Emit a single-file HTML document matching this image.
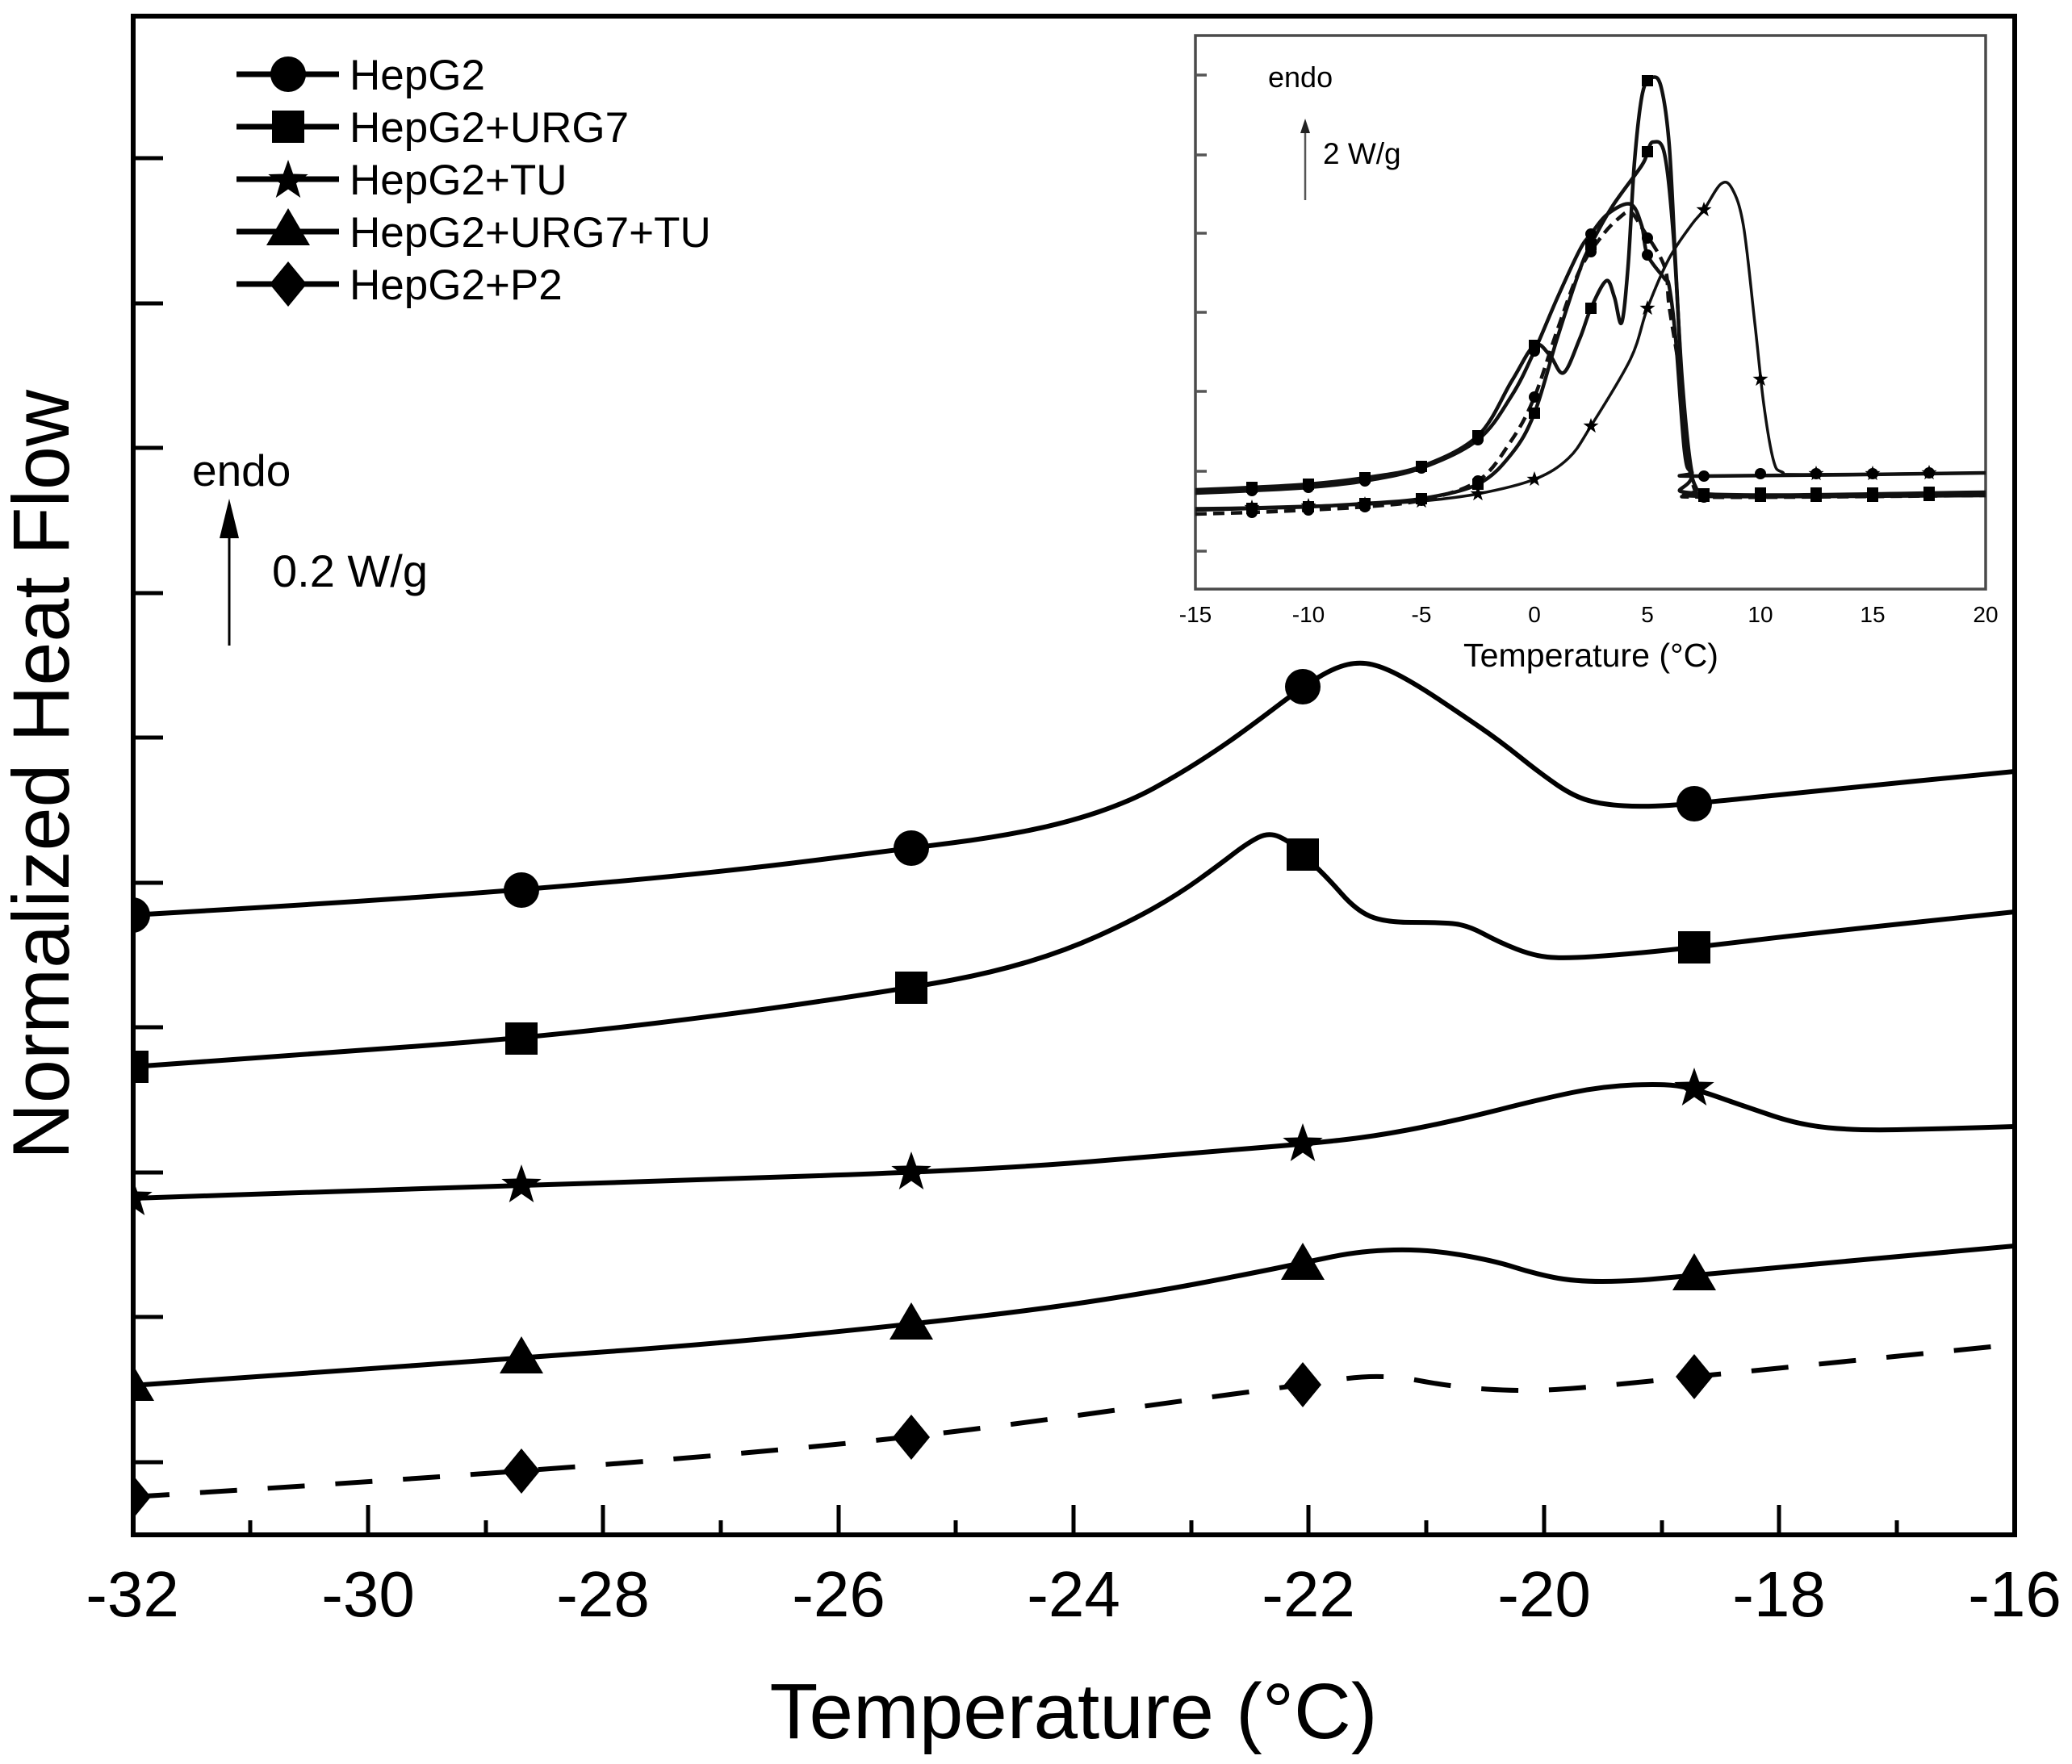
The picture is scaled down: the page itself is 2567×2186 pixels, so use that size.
<!DOCTYPE html>
<html><head><meta charset="utf-8"><style>
html,body{margin:0;padding:0;background:#fff;}
svg{display:block;}
text{font-family:"Liberation Sans",Arial,sans-serif;fill:#000;}
</style></head><body>
<svg width="2567" height="2186" viewBox="0 0 2567 2186">
<defs>
<clipPath id="pc"><rect x="165" y="20" width="2331" height="1882"/></clipPath>
<clipPath id="ic"><rect x="1481" y="44" width="979" height="686"/></clipPath>
<circle id="mC" r="22"/>
<rect id="mS" x="-20" y="-20" width="40" height="40"/>
<path id="mT" d="M0,-27 L27,19 L-27,19Z"/>
<path id="mD" d="M0,-28 L23,0 L0,28 L-23,0Z"/>
<path id="mSt" d="M0,-26 L6.17,-8.49 L24.73,-8.03 L9.99,3.24 L15.28,21.03 L0,10.5 L-15.28,21.03 L-9.99,3.24 L-24.73,-8.03 L-6.17,-8.49Z"/>
<circle id="iC" r="7"/>
<rect id="iS" x="-7" y="-7" width="14" height="14"/>
<path id="iSt" d="M0,-10 L2.4,-3.3 L9.5,-3.1 L3.8,1.2 L5.9,8.1 L0,4 L-5.9,8.1 L-3.8,1.2 L-9.5,-3.1 L-2.4,-3.3Z"/>
</defs>
<rect x="0" y="0" width="2567" height="2186" fill="#fff"/>

<!-- main axes frame -->
<rect x="165" y="20" width="2331" height="1882" fill="none" stroke="#000" stroke-width="6"/>
<g stroke="#000" stroke-width="5">
<line x1="165" y1="196" x2="202" y2="196"/><line x1="165" y1="376" x2="202" y2="376"/>
<line x1="165" y1="555" x2="202" y2="555"/><line x1="165" y1="735" x2="202" y2="735"/>
<line x1="165" y1="914" x2="202" y2="914"/><line x1="165" y1="1094" x2="202" y2="1094"/>
<line x1="165" y1="1273" x2="202" y2="1273"/><line x1="165" y1="1453" x2="202" y2="1453"/>
<line x1="165" y1="1632" x2="202" y2="1632"/><line x1="165" y1="1812" x2="202" y2="1812"/>
<line x1="456" y1="1902" x2="456" y2="1865"/><line x1="747" y1="1902" x2="747" y2="1865"/>
<line x1="1039" y1="1902" x2="1039" y2="1865"/><line x1="1330" y1="1902" x2="1330" y2="1865"/>
<line x1="1621" y1="1902" x2="1621" y2="1865"/><line x1="1913" y1="1902" x2="1913" y2="1865"/>
<line x1="2204" y1="1902" x2="2204" y2="1865"/>
<line x1="310" y1="1902" x2="310" y2="1884"/><line x1="602" y1="1902" x2="602" y2="1884"/>
<line x1="893" y1="1902" x2="893" y2="1884"/><line x1="1184" y1="1902" x2="1184" y2="1884"/>
<line x1="1476" y1="1902" x2="1476" y2="1884"/><line x1="1767" y1="1902" x2="1767" y2="1884"/>
<line x1="2059" y1="1902" x2="2059" y2="1884"/><line x1="2350" y1="1902" x2="2350" y2="1884"/>
</g>
<g font-size="80" text-anchor="middle">
<text x="164" y="2003">-32</text><text x="456" y="2003">-30</text><text x="747" y="2003">-28</text>
<text x="1039" y="2003">-26</text><text x="1330" y="2003">-24</text><text x="1621" y="2003">-22</text>
<text x="1913" y="2003">-20</text><text x="2204" y="2003">-18</text><text x="2496" y="2003">-16</text>
</g>
<text x="1330" y="2154" font-size="97" text-anchor="middle" textLength="753" lengthAdjust="spacingAndGlyphs">Temperature (°C)</text>
<text transform="translate(85,960) rotate(-90)" font-size="99" text-anchor="middle" textLength="954" lengthAdjust="spacingAndGlyphs">Normalized Heat Flow</text>

<!-- main curves (static smooth paths) -->
<g clip-path="url(#pc)" fill="none" stroke="#000" stroke-width="6" stroke-linejoin="round">
<path d="M164,1134 L282,1127 Q400,1120 523,1111.5 Q646,1103 773,1091.5 Q900,1080 1014.5,1065.5 Q1129,1051 1179.5,1044.5 Q1230,1038 1275,1029 Q1320,1020 1360,1006.5 Q1400,993 1430,976.5 Q1460,960 1485,944 Q1510,928 1531,913 Q1552,898 1583,874.5 Q1614,851 1634,839 Q1654,827 1669.5,823.5 Q1685,820 1700,823.5 Q1715,827 1735.5,838 Q1756,849 1781.5,866 Q1807,883 1832.5,900.5 Q1858,918 1883.5,938.5 Q1909,959 1929.5,973 Q1950,987 1968,992 Q1986,997 2011.5,998.5 Q2037,1000 2068,998 Q2099,996 2174.5,988 Q2250,980 2373,968 L2496,956"/>
<path d="M164,1322 L282,1313.5 Q400,1305 523,1296 Q646,1287 773,1272.5 Q900,1258 1014.5,1241 Q1129,1224 1179.5,1214.5 Q1230,1205 1275,1191.5 Q1320,1178 1360,1160 Q1400,1142 1430,1125 Q1460,1108 1485,1090 Q1510,1072 1527.5,1058.5 Q1545,1045 1558.5,1038 Q1572,1031 1585,1037 Q1598,1043 1606,1051 Q1614,1059 1629,1073 Q1644,1087 1662,1107.5 Q1680,1128 1697.5,1135.5 Q1715,1143 1748.5,1143 Q1782,1143 1799.5,1144.5 Q1817,1146 1837.5,1157 Q1858,1168 1878.5,1176 Q1899,1184 1917,1186 Q1935,1188 1973,1185.5 Q2011,1183 2055,1178.5 Q2099,1174 2174.5,1165 Q2250,1156 2373,1143 L2496,1130"/>
<path d="M164,1485 L282,1481 Q400,1477 523,1473 Q646,1469 773,1465 Q900,1461 1014.5,1457 Q1129,1453 1214.5,1448.5 Q1300,1444 1375,1437.5 Q1450,1431 1532,1424.5 Q1614,1418 1659.5,1413 Q1705,1408 1756,1398 Q1807,1388 1858,1375 Q1909,1362 1947.5,1354 Q1986,1346 2024,1344.5 Q2062,1343 2080.5,1346 Q2099,1349 2131.5,1360.5 Q2164,1372 2197,1383 Q2230,1394 2265,1397.5 Q2300,1401 2350,1400 Q2400,1399 2448,1397.5 L2496,1396"/>
<path d="M164,1717 L282,1708.5 Q400,1700 523,1691.5 Q646,1683 773,1673.5 Q900,1664 1014.5,1652.5 Q1129,1641 1214.5,1631 Q1300,1621 1370,1610 Q1440,1599 1490,1589.5 Q1540,1580 1577,1572.5 Q1614,1565 1650,1557.5 Q1686,1550 1727,1549 Q1768,1548 1809,1555 Q1850,1562 1875,1570 Q1900,1578 1925,1583 Q1950,1588 1985,1588 Q2020,1588 2059.5,1584 Q2099,1580 2297.5,1562 L2496,1544"/>
<path stroke-dasharray="46 38" d="M164,1855 L282,1847.5 Q400,1840 523,1831.5 Q646,1823 773,1813 Q900,1803 1014.5,1792 Q1129,1781 1214.5,1770 Q1300,1759 1375,1748.5 Q1450,1738 1532,1727 Q1614,1716 1662.5,1709 Q1711,1702 1756,1710.5 Q1801,1719 1842,1721.5 Q1883,1724 1916.5,1722.5 Q1950,1721 2024.5,1713.5 Q2099,1706 2297.5,1686 L2496,1666"/>
</g>
<g clip-path="url(#pc)" fill="#000">
<use href="#mC" x="164" y="1134"/><use href="#mC" x="646" y="1103"/><use href="#mC" x="1129" y="1051"/><use href="#mC" x="1614" y="851"/><use href="#mC" x="2099" y="996"/>
<use href="#mS" x="164" y="1322"/><use href="#mS" x="646" y="1287"/><use href="#mS" x="1129" y="1224"/><use href="#mS" x="1614" y="1059"/><use href="#mS" x="2099" y="1174"/>
<use href="#mSt" x="164" y="1485"/><use href="#mSt" x="646" y="1469"/><use href="#mSt" x="1129" y="1453"/><use href="#mSt" x="1614" y="1418"/><use href="#mSt" x="2099" y="1349"/>
<use href="#mT" x="164" y="1717"/><use href="#mT" x="646" y="1683"/><use href="#mT" x="1129" y="1641"/><use href="#mT" x="1614" y="1567"/><use href="#mT" x="2099" y="1580"/>
<use href="#mD" x="164" y="1855"/><use href="#mD" x="646" y="1823"/><use href="#mD" x="1129" y="1781"/><use href="#mD" x="1614" y="1716"/><use href="#mD" x="2099" y="1706"/>
</g>

<!-- legend -->
<g stroke="#000" stroke-width="7">
<line x1="293" y1="92" x2="420" y2="92"/><line x1="293" y1="157" x2="420" y2="157"/>
<line x1="293" y1="222" x2="420" y2="222"/><line x1="293" y1="287" x2="420" y2="287"/>
<line x1="293" y1="352" x2="420" y2="352"/>
</g>
<g fill="#000">
<use href="#mC" x="357" y="92"/><use href="#mS" x="357" y="157"/><use href="#mSt" x="357" y="224"/>
<use href="#mT" x="357" y="285"/><use href="#mD" x="357" y="352"/>
</g>
<g font-size="53">
<text x="433" y="111">HepG2</text>
<text x="433" y="176">HepG2+URG7</text>
<text x="433" y="241">HepG2+TU</text>
<text x="433" y="306">HepG2+URG7+TU</text>
<text x="433" y="371">HepG2+P2</text>
</g>

<text x="238" y="602" font-size="55">endo</text>
<line x1="284" y1="800" x2="284" y2="660" stroke="#000" stroke-width="3"/>
<polygon points="284,618 272,667 296,667" fill="#000"/>
<text x="337" y="727" font-size="56">0.2 W/g</text>

<!-- inset -->
<rect x="1481" y="44" width="979" height="686" fill="#fff" stroke="#4a4a4a" stroke-width="3.5"/>
<g stroke="#555" stroke-width="3.5">
<line x1="1481" y1="93" x2="1495" y2="93"/><line x1="1481" y1="192" x2="1495" y2="192"/>
<line x1="1481" y1="289" x2="1495" y2="289"/><line x1="1481" y1="387" x2="1495" y2="387"/>
<line x1="1481" y1="485" x2="1495" y2="485"/><line x1="1481" y1="584" x2="1495" y2="584"/>
<line x1="1481" y1="683" x2="1495" y2="683"/>
</g>
<g font-size="28" text-anchor="middle" fill="#222">
<text x="1481" y="771">-15</text><text x="1621" y="771">-10</text><text x="1761" y="771">-5</text>
<text x="1901" y="771">0</text><text x="2041" y="771">5</text><text x="2181" y="771">10</text>
<text x="2320" y="771">15</text><text x="2460" y="771">20</text>
</g>
<text x="1971" y="826" font-size="41" text-anchor="middle" textLength="316" lengthAdjust="spacingAndGlyphs" fill="#222">Temperature (°C)</text>
<text x="1571" y="108" font-size="36" fill="#222">endo</text>
<text x="1639" y="203" font-size="37" fill="#222">2 W/g</text>
<line x1="1617" y1="248" x2="1617" y2="160" stroke="#555" stroke-width="2.5"/>
<polygon points="1617,147 1611,165 1623,165" fill="#222"/>

<g clip-path="url(#ic)">
<polyline class="sm" fill="none" stroke="#111" stroke-width="4.5" stroke-linejoin="round" points="1481,607 1551,604 1621,600 1691,592 1761,578 1831,540 1873,472 1901,428 1920,440 1937,462 1957,420 1971,382 1990,348 2000,368 2009,400 2017,330 2025,200 2035,115 2047,96 2058,108 2068,180 2076,330 2084,480 2092,570 2102,606 2115,615 2460,614"/>
<polyline class="sm" fill="none" stroke="#111" stroke-width="4.5" stroke-linejoin="round" points="1481,611 1551,608 1621,604 1691,596 1761,580 1831,545 1873,490 1901,435 1929,370 1957,310 1971,290 1992,265 2020,253 2034,280 2041,316 2062,345 2068,355 2076,420 2087,560 2096,585 2111,590 2460,586"/>
<polyline class="sm" fill="none" stroke="#111" stroke-width="4.5" stroke-linejoin="round" points="1481,632 1551,630 1621,628 1691,624 1761,618 1831,600 1873,562 1901,512 1929,420 1957,335 1971,303 1998,255 2034,205 2041,188 2048,176 2062,190 2073,290 2084,470 2096,585 2111,612 2460,610"/>
<polyline class="sm" fill="none" stroke="#111" stroke-width="4.5" stroke-linejoin="round" stroke-dasharray="14 8" points="1481,637 1551,635 1621,632 1691,628 1761,620 1831,596 1873,545 1901,492 1929,410 1957,335 1985,292 2006,270 2020,263 2034,282 2062,330 2068,380 2082,470 2090,560 2100,608 2113,616 2460,614"/>
<polyline class="sm" fill="none" stroke="#111" stroke-width="3.5" stroke-linejoin="round" points="1481,630 1551,629 1621,627 1691,625 1761,621 1831,612 1901,594 1943,568 1971,528 2020,445 2041,382 2068,320 2096,278 2111,260 2132,228 2146,234 2160,280 2174,400 2185,500 2197,570 2208,585 2236,588 2460,586"/>
<g fill="#000">
<use href="#iS" x="1551" y="604"/><use href="#iS" x="1621" y="600"/><use href="#iS" x="1691" y="592"/><use href="#iS" x="1761" y="578"/><use href="#iS" x="1831" y="540"/><use href="#iS" x="1901" y="428"/><use href="#iS" x="1971" y="382"/><use href="#iS" x="2041" y="100"/><use href="#iS" x="2111" y="615"/><use href="#iS" x="2181" y="615"/><use href="#iS" x="2250" y="615"/><use href="#iS" x="2320" y="615"/><use href="#iS" x="2390" y="614"/>
<use href="#iC" x="1551" y="608"/><use href="#iC" x="1621" y="604"/><use href="#iC" x="1691" y="596"/><use href="#iC" x="1761" y="580"/><use href="#iC" x="1831" y="545"/><use href="#iC" x="1901" y="435"/><use href="#iC" x="1971" y="290"/><use href="#iC" x="2041" y="316"/><use href="#iC" x="2111" y="590"/><use href="#iC" x="2181" y="587"/><use href="#iC" x="2250" y="587"/><use href="#iC" x="2320" y="587"/><use href="#iC" x="2390" y="586"/>
<use href="#iS" x="1551" y="630"/><use href="#iS" x="1621" y="628"/><use href="#iS" x="1691" y="624"/><use href="#iS" x="1761" y="618"/><use href="#iS" x="1831" y="600"/><use href="#iS" x="1901" y="512"/><use href="#iS" x="1971" y="303"/><use href="#iS" x="2041" y="188"/><use href="#iS" x="2111" y="612"/><use href="#iS" x="2181" y="611"/><use href="#iS" x="2250" y="611"/><use href="#iS" x="2320" y="611"/><use href="#iS" x="2390" y="610"/>
<use href="#iC" x="1551" y="635"/><use href="#iC" x="1621" y="632"/><use href="#iC" x="1691" y="628"/><use href="#iC" x="1761" y="620"/><use href="#iC" x="1831" y="596"/><use href="#iC" x="1901" y="492"/><use href="#iC" x="1971" y="312"/><use href="#iC" x="2041" y="295"/><use href="#iC" x="2111" y="616"/><use href="#iC" x="2181" y="615"/><use href="#iC" x="2250" y="615"/><use href="#iC" x="2320" y="615"/><use href="#iC" x="2390" y="614"/>
<use href="#iSt" x="1551" y="629"/><use href="#iSt" x="1621" y="627"/><use href="#iSt" x="1691" y="625"/><use href="#iSt" x="1761" y="621"/><use href="#iSt" x="1831" y="612"/><use href="#iSt" x="1901" y="594"/><use href="#iSt" x="1971" y="528"/><use href="#iSt" x="2041" y="382"/><use href="#iSt" x="2111" y="260"/><use href="#iSt" x="2181" y="470"/><use href="#iSt" x="2250" y="587"/><use href="#iSt" x="2320" y="587"/><use href="#iSt" x="2390" y="586"/>
</g>
</g>
</svg>
<script>
(function(){
var pls=document.querySelectorAll('polyline.sm');
for(var k=0;k<pls.length;k++){
var pl=pls[k];
var pts=pl.getAttribute('points').trim().split(/\s+/).map(function(s){return s.split(',').map(Number);});
var d='M'+pts[0][0]+','+pts[0][1];
for(var i=0;i<pts.length-1;i++){
var p0=pts[i-1]||pts[i],p1=pts[i],p2=pts[i+1],p3=pts[i+2]||pts[i+1];
var c1x=p1[0]+(p2[0]-p0[0])/6,c1y=p1[1]+(p2[1]-p0[1])/6;
var c2x=p2[0]-(p3[0]-p1[0])/6,c2y=p2[1]-(p3[1]-p1[1])/6;
d+=' C'+c1x.toFixed(1)+','+c1y.toFixed(1)+' '+c2x.toFixed(1)+','+c2y.toFixed(1)+' '+p2[0]+','+p2[1];
}
var path=document.createElementNS(pl.namespaceURI,'path');
var at=['fill','stroke','stroke-width','stroke-dasharray'];
for(var j=0;j<at.length;j++){var v=pl.getAttribute(at[j]);if(v!==null)path.setAttribute(at[j],v);}
path.setAttribute('stroke-linejoin','round');
path.setAttribute('d',d);
pl.parentNode.replaceChild(path,pl);
}
})();
</script>
</body></html>
